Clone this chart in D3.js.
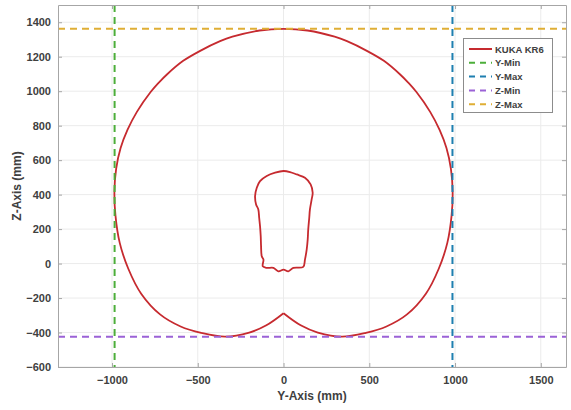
<!DOCTYPE html>
<html>
<head>
<meta charset="utf-8">
<script src="https://cdn.jsdelivr.net/npm/d3@7"></script>
<style>
  body { margin: 0; background: #fff; }
  svg text { font-family: "Liberation Sans", Arial, sans-serif; font-weight: bold; fill: #404040; }
</style>
</head>
<body>
<script>
// outer workspace boundary (Y, Z) in mm, starting and ending at the cusp
const outerY = [0, 100, 200, 340, 480, 600, 720, 830, 905, 955, 980, 986, 976, 950, 910, 855, 775, 727, 680, 585, 486, 370, 298, 140,
  0, -140, -298, -370, -486, -585, -680, -727, -775, -855, -910, -950, -976, -986, -980, -955, -905, -830, -720, -600, -480, -340, -200, -100, 0];
const outerZ = [-288, -358, -400, -424, -402, -365, -295, -175, -30, 120, 280, 420, 550, 670, 775, 880, 995, 1050, 1097, 1176, 1234, 1290, 1316, 1352,
  1362, 1352, 1316, 1290, 1234, 1176, 1097, 1050, 995, 880, 775, 670, 550, 420, 280, 120, -30, -175, -295, -365, -402, -424, -400, -358, -288];

// inner (unreachable) boundary
const innerY = [0, -49, -98, -137, -156, -166, -160, -147, -142, -137, -133, -131, -127, -117, -121, -98, -59, -30, 0,
  28, 57, 115, 125, 135, 141, 144, 150, 154, 164, 170, 158, 125, 77, 38];
const innerZ = [537, 527, 508, 478, 440, 391, 343, 314, 266, 217, 159, 101, 42, 23, -16, -25, -25, -45, -35,
  -45, -25, -19, 23, 81, 140, 198, 266, 314, 372, 411, 459, 498, 517, 531];

const yMin = -985, yMax = 985, zMin = -425, zMax = 1362;

const xTicks = [-1000, -500, 0, 500, 1000, 1500];
const yTicks = [-600, -400, -200, 0, 200, 400, 600, 800, 1000, 1200, 1400];

const legendNames = ['KUKA KR6', 'Y-Min', 'Y-Max', 'Z-Min', 'Z-Max'];
const colors = ['#c62a2f', '#4cae3a', '#1e7fb0', '#9b62d6', '#dfae35'];

const W = 571, H = 410;
const svg = d3.select('body').append('svg').attr('width', W).attr('height', H);

const x = d3.scaleLinear().domain([-1315, 1647]).range([58, 566]);
const y = d3.scaleLinear().domain([-600, 1500]).range([367, 5]);

// grid
const grid = svg.append('g');
grid.selectAll('.gx').data(xTicks).enter().append('line')
  .attr('x1', d => x(d)).attr('x2', d => x(d)).attr('y1', y.range()[1]).attr('y2', y.range()[0])
  .attr('stroke', '#ebebeb').attr('stroke-width', 1);
grid.selectAll('.gy').data(yTicks).enter().append('line')
  .attr('x1', x.range()[0]).attr('x2', x.range()[1]).attr('y1', d => y(d)).attr('y2', d => y(d))
  .attr('stroke', '#ebebeb').attr('stroke-width', 1);

svg.append('clipPath').attr('id', 'clip').append('rect')
  .attr('x', 58).attr('y', 5).attr('width', 508).attr('height', 362);

const plot = svg.append('g').attr('clip-path', 'url(#clip)');

plot.append('path')
  .datum(outerY.map((v, i) => [v, outerZ[i]]))
  .attr('d', d3.line().x(d => x(d[0])).y(d => y(d[1])).curve(d3.curveCatmullRom.alpha(0.5)))
  .attr('fill', 'none').attr('stroke', colors[0]).attr('stroke-width', 1.8);

plot.append('path')
  .datum(innerY.map((v, i) => [v, innerZ[i]]))
  .attr('d', d3.line().x(d => x(d[0])).y(d => y(d[1])).curve(d3.curveCatmullRomClosed.alpha(0.5)))
  .attr('fill', 'none').attr('stroke', colors[0]).attr('stroke-width', 1.8);

// limit lines
const dash = '7,5';
plot.append('line').attr('x1', x(yMin)).attr('x2', x(yMin)).attr('y1', 5).attr('y2', 367)
  .attr('stroke', colors[1]).attr('stroke-width', 2).attr('stroke-dasharray', dash);
plot.append('line').attr('x1', x(yMax)).attr('x2', x(yMax)).attr('y1', 5).attr('y2', 367)
  .attr('stroke', colors[2]).attr('stroke-width', 2).attr('stroke-dasharray', dash);
plot.append('line').attr('x1', 58).attr('x2', 566).attr('y1', y(zMin)).attr('y2', y(zMin))
  .attr('stroke', colors[3]).attr('stroke-width', 2).attr('stroke-dasharray', dash);
plot.append('line').attr('x1', 58).attr('x2', 566).attr('y1', y(zMax)).attr('y2', y(zMax))
  .attr('stroke', colors[4]).attr('stroke-width', 2).attr('stroke-dasharray', dash);

// axes (MATLAB style: ticks inside, box on)
const fmt = d3.format('d');
const axStyle = g => {
  g.select('.domain').attr('stroke', '#a6a6a6');
  g.selectAll('.tick line').attr('stroke', '#a6a6a6');
  g.selectAll('.tick text').attr('font-size', 11).attr('fill', '#404040');
};
svg.append('g').attr('transform', 'translate(0,367)')
  .call(d3.axisBottom(x).tickValues(xTicks).tickFormat(fmt).tickSize(-4).tickPadding(9).tickSizeOuter(0))
  .call(axStyle);
svg.append('g').attr('transform', 'translate(0,5)')
  .call(d3.axisTop(x).tickValues(xTicks).tickSize(-4).tickFormat('').tickSizeOuter(0))
  .call(axStyle);
svg.append('g').attr('transform', 'translate(58,0)')
  .call(d3.axisLeft(y).tickValues(yTicks).tickFormat(fmt).tickSize(-4).tickPadding(7).tickSizeOuter(0))
  .call(axStyle);
svg.append('g').attr('transform', 'translate(566,0)')
  .call(d3.axisRight(y).tickValues(yTicks).tickSize(-4).tickFormat('').tickSizeOuter(0))
  .call(axStyle);

// axis titles
svg.append('text').attr('x', 312).attr('y', 400).attr('text-anchor', 'middle')
  .attr('font-size', 12).text('Y-Axis (mm)');
svg.append('text').attr('transform', 'translate(21,186) rotate(-90)').attr('text-anchor', 'middle')
  .attr('font-size', 12).text('Z-Axis (mm)');

// legend
const lg = svg.append('g');
lg.append('rect').attr('x', 463.5).attr('y', 38.5).attr('width', 89).attr('height', 74)
  .attr('fill', '#fff').attr('stroke', '#8c8c8c').attr('stroke-width', 1);
legendNames.forEach((name, i) => {
  const yy = 49 + i * 13.8;
  lg.append('line').attr('x1', 469).attr('x2', 492).attr('y1', yy).attr('y2', yy)
    .attr('stroke', colors[i]).attr('stroke-width', 2)
    .attr('stroke-dasharray', i === 0 ? null : '6,5');
  lg.append('text').attr('x', 495).attr('y', yy + 3.5).attr('font-size', 9.5)
    .attr('fill', '#333').text(name);
});
</script>
</body>
</html>
